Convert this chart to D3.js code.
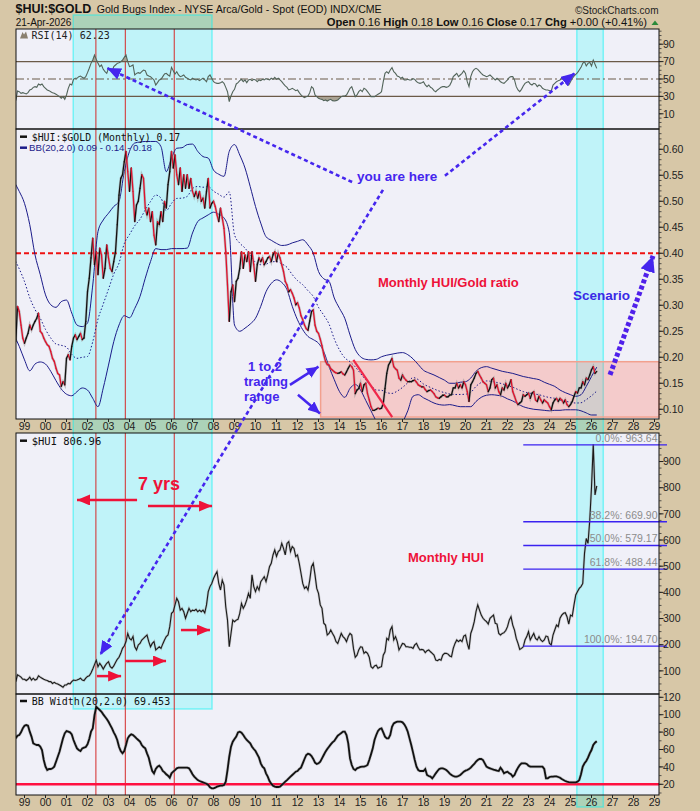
<!DOCTYPE html>
<html>
<head>
<meta charset="utf-8">
<script src="https://d3js.org/d3.v7.min.js"></script>
<style>
  body { margin: 0; background: #d7c7a7; }
  svg { display: block; font-family: "Liberation Sans", Arial, sans-serif; }
</style>
</head>
<body>
<svg id="chart" width="700" height="811"></svg>
<script>
// ---- data (monthly closes start Aug 1998, one row per year) ----
const firstMonth = 1998 + 7 / 12;

const ratioClose = [
  0.230, 0.298, 0.288, 0.262, 0.237,
  0.227, 0.237, 0.246, 0.262, 0.253, 0.262, 0.269, 0.275, 0.285, 0.250, 0.246, 0.237,
  0.230, 0.224, 0.221, 0.211, 0.198, 0.192, 0.179, 0.169, 0.166, 0.144, 0.153, 0.147,
  0.198, 0.205, 0.195, 0.221, 0.237, 0.243, 0.234, 0.240, 0.246, 0.234, 0.237, 0.269,
  0.326, 0.352, 0.391, 0.429, 0.378, 0.403, 0.359, 0.410, 0.397, 0.352, 0.371, 0.416,
  0.391, 0.371, 0.365, 0.384, 0.403, 0.455, 0.512, 0.544, 0.551, 0.576, 0.596, 0.557,
  0.519, 0.564, 0.519, 0.461, 0.493, 0.500, 0.525, 0.551, 0.544, 0.487, 0.474, 0.487,
  0.461, 0.480, 0.435, 0.416, 0.461, 0.455, 0.480, 0.461, 0.500, 0.487, 0.532, 0.557,
  0.596, 0.564, 0.589, 0.551, 0.532, 0.564, 0.519, 0.551, 0.525, 0.551, 0.525, 0.544,
  0.519, 0.509, 0.519, 0.506, 0.519, 0.500, 0.506, 0.487, 0.519, 0.544, 0.487, 0.496,
  0.500, 0.490, 0.474, 0.461, 0.487, 0.468, 0.448, 0.403, 0.339, 0.269, 0.326, 0.339,
  0.307, 0.346, 0.352, 0.371, 0.403, 0.371, 0.397, 0.384, 0.403, 0.365, 0.403, 0.378,
  0.346, 0.378, 0.391, 0.384, 0.391, 0.378, 0.384, 0.391, 0.394, 0.384, 0.397, 0.403,
  0.384, 0.400, 0.391, 0.378, 0.365, 0.346, 0.339, 0.326, 0.330, 0.323, 0.314, 0.301,
  0.305, 0.295, 0.280, 0.272, 0.262, 0.255, 0.252, 0.270, 0.288, 0.291, 0.262, 0.250,
  0.246, 0.235, 0.222, 0.205, 0.192, 0.186, 0.185, 0.178, 0.175, 0.172, 0.170, 0.169,
  0.170, 0.172, 0.168, 0.166, 0.172, 0.179, 0.185, 0.182, 0.175, 0.130, 0.137, 0.140,
  0.150, 0.134, 0.147, 0.150, 0.130, 0.118, 0.105, 0.098, 0.098, 0.100, 0.102, 0.101,
  0.102, 0.111, 0.140, 0.169, 0.185, 0.191, 0.198, 0.182, 0.178, 0.175, 0.160, 0.156,
  0.166, 0.160, 0.156, 0.153, 0.153, 0.153, 0.155, 0.156, 0.152, 0.147, 0.145, 0.143,
  0.143, 0.138, 0.134, 0.136, 0.137, 0.134, 0.130, 0.124, 0.122, 0.121, 0.124, 0.127,
  0.127, 0.124, 0.124, 0.127, 0.128, 0.141, 0.141, 0.150, 0.141, 0.147, 0.141, 0.153,
  0.147, 0.134, 0.115, 0.147, 0.153, 0.160, 0.169, 0.173, 0.166, 0.160, 0.153, 0.150,
  0.147, 0.134, 0.141, 0.157, 0.160, 0.141, 0.147, 0.134, 0.128, 0.141, 0.137, 0.150,
  0.141, 0.147, 0.157, 0.134, 0.125, 0.115, 0.109, 0.112, 0.115, 0.128, 0.125, 0.128,
  0.131, 0.121, 0.131, 0.134, 0.118, 0.115, 0.125, 0.118, 0.112, 0.118, 0.115, 0.112,
  0.105, 0.099, 0.112, 0.118, 0.121, 0.115, 0.121, 0.118, 0.112, 0.118, 0.109, 0.105,
  0.109, 0.115, 0.125, 0.134, 0.131, 0.141, 0.141, 0.153, 0.147, 0.160, 0.157, 0.166,
  0.176, 0.182, 0.169, 0.173
];

const huiClose = [
  59, 85, 81, 76, 68,
  68, 63, 68, 76, 65, 72, 65, 68, 81, 76, 72, 68,
  65, 63, 59, 59, 52, 56, 52, 50, 46, 42, 37, 46,
  46, 52, 50, 59, 65, 63, 65, 68, 72, 65, 63, 72,
  79, 81, 92, 107, 124, 141, 116, 129, 119, 107, 119, 129,
  135, 116, 110, 119, 132, 144, 152, 167, 186, 195, 212, 243,
  224, 218, 231, 192, 180, 199, 205, 218, 224, 231, 237, 212,
  192, 205, 212, 180, 186, 192, 186, 203, 218, 231, 237, 269,
  320, 326, 352, 377, 364, 332, 339, 326, 301, 320, 339, 326,
  332, 330, 335, 326, 332, 326, 332, 322, 352, 403, 422, 434,
  453, 467, 479, 434, 409, 447, 428, 345, 294, 192, 243, 294,
  288, 294, 297, 320, 358, 339, 352, 371, 396, 377, 467, 422,
  403, 422, 409, 441, 450, 460, 441, 467, 498, 511, 543, 562,
  537, 556, 562, 587, 568, 543, 587, 594, 556, 575, 568, 537,
  543, 511, 473, 434, 415, 422, 409, 447, 498, 511, 467, 415,
  396, 352, 339, 282, 275, 237, 243, 256, 243, 231, 212, 205,
  224, 243, 231, 224, 212, 231, 243, 237, 185, 152, 160, 180,
  192, 190, 167, 173, 167, 152, 116, 110, 119, 122, 110, 114,
  116, 160, 173, 224, 218, 256, 269, 218, 231, 212, 180, 192,
  205, 203, 192, 192, 190, 190, 186, 199, 205, 190, 180, 182,
  180, 170, 177, 180, 173, 167, 160, 141, 139, 144, 141, 160,
  167, 167, 164, 157, 154, 186, 205, 218, 212, 218, 212, 233,
  237, 205, 182, 243, 262, 288, 326, 352, 332, 313, 301, 294,
  288, 279, 301, 307, 313, 282, 279, 243, 237, 243, 246, 254,
  269, 294, 307, 275, 256, 224, 205, 182, 186, 192, 218, 231,
  250, 218, 231, 243, 224, 218, 231, 218, 212, 218, 233, 231,
  205, 199, 237, 256, 275, 269, 301, 313, 320, 322, 307, 279,
  313, 309, 352, 390, 403, 415, 422, 434, 549, 606, 587, 676,
  803, 966, 772, 806.96
];

const rsi14 = [
  25.0, 36.2, 35.4, 33.5, 34.3,
  33.5, 32.8, 34.3, 37.4, 38.1, 40.4, 41.2, 40.4, 44.3, 43.1, 44.3, 41.2,
  39.3, 37.4, 36.6, 35.4, 34.3, 33.5, 32.4, 31.2, 29.7, 27.8, 29.7, 26.6,
  31.6, 39.3, 44.3, 43.1, 49.6, 50.8, 50.8, 52.7, 53.4, 51.9, 50.8, 52.7,
  57.3, 62.3, 68.0, 71.8, 77.6, 72.6, 68.0, 64.2, 66.1, 61.1, 58.4, 56.5,
  62.3, 60.3, 58.4, 64.2, 66.1, 68.0, 68.8, 69.9, 71.8, 74.9, 77.6, 69.9,
  64.2, 64.9, 66.1, 54.6, 56.5, 57.3, 56.5, 58.4, 60.3, 59.6, 54.6, 53.4,
  52.7, 50.8, 48.9, 43.1, 45.8, 48.9, 49.6, 52.7, 55.7, 56.5, 54.6, 53.4,
  63.4, 59.6, 55.7, 58.4, 54.6, 52.7, 53.4, 54.6, 51.9, 50.8, 49.6, 48.9,
  50.8, 49.6, 48.9, 49.6, 48.1, 49.6, 50.8, 48.9, 46.9, 52.7, 54.6, 50.8,
  46.9, 45.8, 45.0, 45.0, 45.8, 46.9, 45.0, 40.4, 35.4, 23.9, 30.5, 35.4,
  38.1, 44.3, 45.8, 48.1, 49.6, 46.9, 48.9, 45.8, 48.9, 49.6, 48.1, 49.6,
  48.9, 46.9, 48.9, 48.1, 49.6, 48.9, 50.4, 49.6, 48.9, 50.8, 49.6, 51.9,
  49.6, 50.8, 48.9, 46.9, 44.3, 42.0, 40.4, 37.4, 38.1, 39.3, 38.1, 36.6,
  37.4, 34.3, 31.6, 29.7, 28.5, 29.7, 30.5, 34.3, 41.2, 39.3, 31.6, 29.7,
  27.8, 27.0, 26.6, 25.1, 25.9, 24.7, 25.9, 26.6, 25.1, 24.7, 25.1, 25.9,
  27.8, 29.7, 30.5, 30.5, 31.6, 35.4, 39.3, 41.2, 35.4, 29.7, 31.6, 35.4,
  37.4, 35.4, 39.3, 38.1, 35.4, 32.8, 29.7, 29.7, 29.7, 31.2, 32.4, 33.5,
  35.4, 46.9, 56.5, 58.4, 56.5, 60.3, 63.0, 58.4, 56.5, 53.4, 52.7, 50.8,
  51.9, 48.9, 48.9, 49.6, 48.9, 48.9, 50.4, 49.6, 46.9, 45.8, 45.0, 45.8,
  46.9, 43.1, 41.2, 43.1, 40.4, 39.3, 36.6, 35.4, 37.4, 38.9, 40.4, 41.2,
  41.2, 40.4, 41.2, 42.7, 46.9, 52.7, 54.6, 56.5, 52.7, 54.6, 56.5, 59.6,
  56.5, 46.9, 41.2, 52.7, 58.4, 61.1, 62.3, 61.1, 58.8, 56.5, 54.6, 53.8,
  52.7, 53.4, 54.6, 52.7, 50.8, 48.9, 50.8, 48.9, 46.9, 45.8, 45.0, 46.9,
  48.9, 51.9, 52.7, 52.7, 48.9, 41.2, 37.4, 35.4, 38.1, 42.0, 45.0, 46.2,
  46.9, 44.3, 43.1, 45.0, 44.3, 41.2, 43.1, 42.0, 39.3, 38.1, 37.4, 37.4,
  36.6, 36.2, 43.1, 45.0, 46.9, 48.1, 48.9, 50.8, 52.7, 50.8, 48.1, 43.1,
  46.9, 50.8, 53.4, 55.4, 57.3, 60.3, 63.4, 68.0, 69.9, 65.0, 68.0, 69.2,
  64.9, 71.8, 66.9, 62.23
];

const bbWidth = [
  72.8, 75.9, 76.7, 79.7, 84.3,
  87.4, 88.1, 87.4, 80.5, 74.8, 67.1, 66.0, 65.2, 65.2, 63.3, 59.4, 47.9,
  40.3, 36.4, 37.6, 37.6, 38.4, 40.3, 46.0, 51.7, 57.5, 65.2, 72.8, 78.6,
  81.3, 80.5, 79.7, 77.4, 70.9, 65.9, 61.3, 59.4, 58.3, 61.3, 62.1, 62.9,
  65.9, 72.0, 80.5, 84.3, 99.6, 109.2, 107.3, 105.4, 103.4, 100.4, 97.7, 95.0,
  91.9, 88.1, 84.3, 79.7, 75.9, 70.9, 63.2, 58.3, 55.6, 58.3, 65.2, 72.8,
  75.9, 77.4, 76.7, 74.8, 72.8, 70.9, 69.0, 65.2, 62.9, 61.3, 55.6, 50.6,
  42.2, 35.3, 32.6, 37.6, 40.3, 41.4, 39.1, 35.3, 33.8, 31.5, 29.9, 27.6,
  32.6, 34.5, 36.4, 38.4, 39.1, 39.1, 39.1, 39.1, 39.1, 39.1, 38.4, 35.3,
  31.5, 28.8, 26.9, 24.9, 23.8, 23.0, 22.3, 21.5, 20.7, 19.2, 16.5, 15.4,
  15.4, 16.1, 17.3, 18.0, 18.4, 18.4, 19.2, 23.0, 36.4, 51.7, 63.2, 69.0,
  72.0, 74.8, 79.7, 80.5, 79.3, 76.7, 73.6, 70.9, 69.0, 67.1, 63.2, 60.6,
  58.3, 54.4, 50.6, 44.1, 40.3, 38.4, 32.6, 28.8, 23.8, 20.7, 18.4, 17.3,
  16.9, 16.9, 17.3, 19.2, 21.1, 23.0, 24.9, 26.9, 28.8, 30.7, 32.6, 34.5,
  35.3, 37.6, 39.1, 44.1, 49.1, 53.7, 55.2, 54.4, 52.5, 49.1, 44.9, 43.4,
  44.1, 46.0, 49.8, 53.7, 57.5, 60.6, 63.2, 65.9, 68.2, 69.8, 72.8, 75.9,
  77.4, 78.9, 80.5, 80.5, 76.7, 67.1, 49.8, 42.2, 37.6, 36.4, 38.4, 39.1,
  39.9, 40.3, 40.3, 41.0, 42.2, 47.9, 54.4, 61.3, 70.9, 76.7, 81.3, 83.6,
  84.3, 79.7, 74.8, 72.8, 72.8, 76.7, 86.2, 90.0, 91.2, 92.0, 92.0, 92.0,
  91.2, 88.9, 85.4, 80.5, 72.8, 65.2, 56.7, 47.9, 40.3, 36.4, 35.3, 35.3,
  35.3, 37.6, 30.7, 29.5, 28.8, 26.9, 29.5, 32.6, 35.3, 37.6, 38.4, 38.4,
  37.6, 36.4, 34.5, 32.3, 30.7, 29.5, 28.8, 28.8, 29.5, 30.7, 32.6, 34.5,
  35.7, 36.4, 37.6, 39.1, 41.4, 43.4, 46.0, 47.9, 49.1, 49.1, 47.9, 44.1,
  40.3, 39.1, 38.4, 37.6, 36.8, 36.4, 35.7, 35.3, 39.1, 36.4, 32.6, 33.8,
  34.5, 32.6, 31.5, 28.8, 30.7, 35.3, 39.1, 42.2, 44.1, 44.1, 44.1, 43.4,
  41.4, 40.3, 40.3, 40.3, 40.3, 40.3, 40.3, 40.3, 40.3, 37.6, 26.9, 26.9,
  28.4, 28.8, 28.8, 29.1, 29.1, 28.4, 27.6, 26.1, 24.9, 23.8, 23.0, 22.6,
  22.3, 22.3, 22.3, 22.3, 23.0, 24.9, 31.5, 40.3, 44.1, 46.8, 50.6, 55.6,
  59.4, 65.2, 67.8, 69.453
];

// Bollinger bands read quarterly, starting mid 1998
const bandStart = 1998.5;
const bbUpper = [
  0.538, 0.519,
  0.496, 0.455, 0.397, 0.359,
  0.320, 0.301, 0.296, 0.307,
  0.310, 0.285, 0.262, 0.259,
  0.266, 0.339, 0.442, 0.464,
  0.477, 0.490, 0.500, 0.557,
  0.596, 0.612, 0.614, 0.615,
  0.615, 0.615, 0.605, 0.557,
  0.583, 0.602, 0.603, 0.609,
  0.610, 0.596, 0.586, 0.583,
  0.560, 0.552, 0.548, 0.596,
  0.609, 0.589, 0.564, 0.528,
  0.490, 0.458, 0.432, 0.425,
  0.419, 0.415, 0.416, 0.420,
  0.423, 0.426, 0.416, 0.400,
  0.365, 0.351, 0.346, 0.314,
  0.294, 0.275, 0.243, 0.215,
  0.201, 0.196, 0.195, 0.196,
  0.201, 0.204, 0.206, 0.208,
  0.209, 0.205, 0.197, 0.186,
  0.175, 0.170, 0.166, 0.161,
  0.156, 0.150, 0.150, 0.152,
  0.153, 0.160, 0.173, 0.180,
  0.182, 0.179, 0.176, 0.173,
  0.171, 0.169, 0.166, 0.163,
  0.161, 0.159, 0.157, 0.152,
  0.148, 0.144, 0.137, 0.132,
  0.128, 0.125, 0.128, 0.144,
  0.163, 0.181
];
const bbLower = [
  0.243, 0.221,
  0.195, 0.174, 0.187, 0.191,
  0.187, 0.173, 0.155, 0.139,
  0.129, 0.126, 0.134, 0.141,
  0.137, 0.121, 0.105, 0.141,
  0.185, 0.230, 0.262, 0.280,
  0.276, 0.294, 0.317, 0.352,
  0.384, 0.409, 0.407, 0.407,
  0.409, 0.409, 0.409, 0.410,
  0.439, 0.461, 0.468, 0.474,
  0.479, 0.475, 0.468, 0.440,
  0.262, 0.250, 0.256, 0.264,
  0.275, 0.298, 0.326, 0.342,
  0.349, 0.344, 0.330, 0.298,
  0.272, 0.253, 0.240, 0.234,
  0.227, 0.211, 0.182, 0.157,
  0.134, 0.123, 0.140, 0.148,
  0.137, 0.117, 0.097, 0.078,
  0.072, 0.060, 0.055, 0.062,
  0.075, 0.097, 0.125, 0.128,
  0.122, 0.117, 0.112, 0.109,
  0.108, 0.109, 0.107, 0.105,
  0.105, 0.105, 0.115, 0.123,
  0.127, 0.128, 0.127, 0.125,
  0.120, 0.116, 0.110, 0.105,
  0.102, 0.100, 0.099, 0.098,
  0.097, 0.098, 0.098, 0.099,
  0.099, 0.099, 0.097, 0.093,
  0.089, 0.089
];

const years = d3.range(1999, 2030);
const rsiTicks = [10, 30, 50, 70, 90];
const ratioTicks = [0.10, 0.15, 0.20, 0.25, 0.30, 0.35, 0.40, 0.45, 0.50, 0.55, 0.60];
const huiTicks = [100, 200, 300, 400, 500, 600, 700, 800, 900];
const bbwTicks = [20, 40, 60, 80, 100, 120];

const redMarkers = [2002.4, 2003.8, 2006.13];
const cyanZones = [[2001.32, 2007.93], [2025.30, 2026.56]];
const fibStart = 2022.75;
const fibLevels = [
  { label: "0.0%", value: 963.64 },
  { label: "38.2%", value: 669.90 },
  { label: "50.0%", value: 579.17 },
  { label: "61.8%", value: 488.44 },
  { label: "100.0%", value: 194.70 }
];
const tradingRange = { from: 2013.1, low: 0.085, high: 0.1915 };
const breakLine = [[2014.66, 0.195], [2016.51, 0.085]];

// ---- layout ----
const svg = d3.select("#chart");
const plotL = 16, plotR = 659;
const x = d3.scaleLinear().domain([1998.595, 2029.214]).range([plotL, plotR]);

const panels = {
  rsi:   { top: 29,  bottom: 129, domain: [-7.5, 107.5] },
  ratio: { top: 129, bottom: 419, domain: [0.0813, 0.639] },
  hui:   { top: 433, bottom: 694, domain: [11.6, 1009] },
  bbw:   { top: 694, bottom: 795, domain: [7.7, 123.8] }
};
Object.entries(panels).forEach(([k, p]) => {
  p.y = d3.scaleLinear().domain(p.domain).range([p.bottom, p.top]);
  p.id = "clip-" + k;
});

const monthly = arr => arr.map((v, i) => ({ t: firstMonth + i / 12, v }));
const quarterly = arr => arr.map((v, i) => ({ t: bandStart + i * 0.25, v }));

const defs = svg.append("defs");
Object.values(panels).forEach(p => {
  defs.append("clipPath").attr("id", p.id).append("rect")
    .attr("x", plotL).attr("y", p.top).attr("width", plotR - plotL).attr("height", p.bottom - p.top);
});

function marker(id, color, len, wid) {
  defs.append("marker").attr("id", id)
    .attr("viewBox", `0 0 ${len} ${wid}`)
    .attr("refX", len).attr("refY", wid / 2)
    .attr("markerWidth", len).attr("markerHeight", wid)
    .attr("markerUnits", "userSpaceOnUse").attr("orient", "auto")
    .append("path").attr("d", `M0,0 L${len},${wid / 2} L0,${wid} Z`).attr("fill", color);
}
const BLUE = "#4526ee", RED = "#ee1238";
marker("arBlue", BLUE, 14, 12);
marker("arBlueBig", BLUE, 16, 15);
marker("arBlueSm", BLUE, 12, 11);
marker("arRed", RED, 13, 11);

// page + panel backgrounds
svg.append("rect").attr("width", 700).attr("height", 811).attr("fill", "#d7c7a7");
Object.values(panels).forEach(p => {
  svg.append("rect").attr("x", plotL).attr("y", p.top).attr("width", plotR - plotL)
    .attr("height", p.bottom - p.top).attr("fill", "#f0f0f8");
});

// cyan highlight zones (left one reaches into the header)
const zoneExtent = [[15, 709], [29, 807]];
cyanZones.forEach((z, i) => {
  svg.append("rect").attr("x", x(z[0])).attr("y", zoneExtent[i][0])
    .attr("width", x(z[1]) - x(z[0])).attr("height", zoneExtent[i][1] - zoneExtent[i][0])
    .attr("fill", "rgba(0,255,255,0.2)").attr("stroke", "rgba(0,245,245,0.45)").attr("stroke-width", 1.5);
});

// trading range box
svg.append("rect")
  .attr("x", x(tradingRange.from)).attr("y", panels.ratio.y(tradingRange.high))
  .attr("width", plotR - x(tradingRange.from))
  .attr("height", panels.ratio.y(tradingRange.low) - panels.ratio.y(tradingRange.high))
  .attr("fill", "rgba(255,120,100,0.3)").attr("stroke", "#f2a08e").attr("stroke-width", 1.5);

// vertical red markers
[[29, 419], [433, 795]].forEach(([a, b]) => {
  svg.selectAll(null).data(redMarkers).join("line")
    .attr("x1", d => x(d)).attr("x2", d => x(d)).attr("y1", a).attr("y2", b)
    .attr("stroke", "#d42a2a").attr("stroke-width", 1);
});

// ---- RSI panel ----
const rsiData = monthly(rsi14);
const rp = panels.rsi;
const gR = svg.append("g").attr("clip-path", `url(#${rp.id})`);
gR.append("path").datum(rsiData).attr("fill", "#aaa293")
  .attr("d", d3.area().x(d => x(d.t)).y0(rp.y(30)).y1(d => rp.y(Math.min(d.v, 30))));
gR.append("path").datum(rsiData).attr("fill", "#aaa293")
  .attr("d", d3.area().x(d => x(d.t)).y0(rp.y(70)).y1(d => rp.y(Math.max(d.v, 70))));
[70, 30].forEach(v => gR.append("line").attr("x1", plotL).attr("x2", plotR)
  .attr("y1", rp.y(v)).attr("y2", rp.y(v)).attr("stroke", "#6b5a48").attr("stroke-width", 1.2));
gR.append("line").attr("x1", plotL).attr("x2", plotR).attr("y1", rp.y(50)).attr("y2", rp.y(50))
  .attr("stroke", "#6b5a48").attr("stroke-width", 1.1).attr("stroke-dasharray", "8,3,2,3");
gR.append("path").datum(rsiData).attr("fill", "none").attr("stroke", "#52645a").attr("stroke-width", 1.1)
  .attr("d", d3.line().x(d => x(d.t)).y(d => rp.y(d.v)));

// ---- ratio panel ----
const pp = panels.ratio;
const gP = svg.append("g").attr("clip-path", `url(#${pp.id})`);
gP.append("line").attr("x1", plotL).attr("x2", plotR).attr("y1", pp.y(0.40)).attr("y2", pp.y(0.40))
  .attr("stroke", "#ee1111").attr("stroke-width", 2).attr("stroke-dasharray", "5,3");
const up = quarterly(bbUpper), lo = quarterly(bbLower);
const mid = up.map((d, i) => ({ t: d.t, v: (d.v + lo[i].v) / 2 }));
const bandLine = d3.line().curve(d3.curveMonotoneX).x(d => x(d.t)).y(d => pp.y(d.v));
[up, lo].forEach(b => gP.append("path").datum(b).attr("fill", "none")
  .attr("stroke", "#1c1c8a").attr("stroke-width", 1).attr("d", bandLine));
gP.append("path").datum(mid).attr("fill", "none").attr("stroke", "#1c1c8a")
  .attr("stroke-width", 1).attr("stroke-dasharray", "1.5,2").attr("d", bandLine);
const ratioData = monthly(ratioClose);
gP.append("path").datum(ratioData).attr("fill", "none").attr("stroke", "#999").attr("stroke-opacity", 0.55)
  .attr("stroke-width", 2.6).attr("d", d3.line().x(d => x(d.t)).y(d => pp.y(d.v)));
gP.selectAll(null).data(d3.pairs(ratioData)).join("line")
  .attr("x1", d => x(d[0].t)).attr("y1", d => pp.y(d[0].v))
  .attr("x2", d => x(d[1].t)).attr("y2", d => pp.y(d[1].v))
  .attr("stroke", d => d[1].v >= d[0].v ? "#111" : "#e0102c")
  .attr("stroke-width", 1.3).attr("stroke-linecap", "round");
gP.append("line")
  .attr("x1", x(breakLine[0][0])).attr("y1", pp.y(breakLine[0][1]))
  .attr("x2", x(breakLine[1][0])).attr("y2", pp.y(breakLine[1][1]))
  .attr("stroke", "#f0284a").attr("stroke-width", 2.2);

// ---- HUI panel ----
const hp = panels.hui;
const gH = svg.append("g").attr("clip-path", `url(#${hp.id})`);
const huiLine = d3.line().x(d => x(d.t)).y(d => hp.y(d.v));
gH.append("path").datum(monthly(huiClose)).attr("fill", "none").attr("stroke", "#aaa")
  .attr("stroke-opacity", 0.6).attr("stroke-width", 2.4).attr("d", huiLine);
gH.append("path").datum(monthly(huiClose)).attr("fill", "none").attr("stroke", "#1a1a1a")
  .attr("stroke-width", 1.1).attr("d", huiLine);
const fibG = svg.append("g");
fibG.selectAll("line").data(fibLevels).join("line")
  .attr("x1", x(fibStart)).attr("x2", 667)
  .attr("y1", d => hp.y(d.value)).attr("y2", d => hp.y(d.value))
  .attr("stroke", "#3a22f0").attr("stroke-width", 1.3);

// ---- BB width panel ----
const bp = panels.bbw;
const gB = svg.append("g").attr("clip-path", `url(#${bp.id})`);
gB.append("line").attr("x1", plotL).attr("x2", plotR).attr("y1", bp.y(20)).attr("y2", bp.y(20))
  .attr("stroke", "#ff1040").attr("stroke-width", 2.6);
const bbwLine = d3.line().x(d => x(d.t)).y(d => bp.y(d.v));
gB.append("path").datum(monthly(bbWidth)).attr("fill", "none").attr("stroke", "#999")
  .attr("stroke-opacity", 0.5).attr("stroke-width", 3).attr("d", bbwLine);
gB.append("path").datum(monthly(bbWidth)).attr("fill", "none").attr("stroke", "#111")
  .attr("stroke-width", 1.8).attr("d", bbwLine);

// panel borders
Object.values(panels).forEach(p => {
  svg.append("rect").attr("x", plotL).attr("y", p.top).attr("width", plotR - plotL)
    .attr("height", p.bottom - p.top).attr("fill", "none").attr("stroke", "#111").attr("stroke-width", 1);
});

// right axes
function rightAxis(p, major, step, fmt) {
  const g = svg.append("g");
  const minor = d3.range(Math.ceil(p.domain[0] / step) * step, p.domain[1], step);
  g.selectAll("line.mn").data(minor).join("line").attr("class", "mn")
    .attr("x1", plotR).attr("x2", plotR + 2.5).attr("y1", d => p.y(d)).attr("y2", d => p.y(d))
    .attr("stroke", "#333").attr("stroke-width", 0.8);
  g.selectAll("line.mj").data(major).join("line").attr("class", "mj")
    .attr("x1", plotR).attr("x2", plotR + 4.5).attr("y1", d => p.y(d)).attr("y2", d => p.y(d))
    .attr("stroke", "#222").attr("stroke-width", 1);
  g.selectAll("text").data(major).join("text")
    .attr("x", plotR + 4).attr("y", d => p.y(d)).attr("dy", "0.36em")
    .attr("font-size", 10.5).attr("fill", "#222").text(fmt);
}
rightAxis(panels.rsi, rsiTicks, 5, d => d);
rightAxis(panels.ratio, ratioTicks, 0.01, d3.format(".2f"));
rightAxis(panels.hui, huiTicks, 25, d => d);
rightAxis(panels.bbw, bbwTicks, 10, d => d);

// year axes (mid strip and bottom)
[[419, 430], [795, 806]].forEach(([base, ty]) => {
  svg.selectAll(null).data(years).join("line")
    .attr("x1", d => x(d)).attr("x2", d => x(d)).attr("y1", base).attr("y2", base + 3)
    .attr("stroke", "#222");
  svg.selectAll(null).data(years).join("text")
    .attr("x", d => x(d)).attr("y", ty).attr("text-anchor", "middle")
    .attr("font-size", 10.5).attr("fill", "#222")
    .text(d => String(d % 100).padStart(2, "0"));
});

// fib labels, kept just inside the plot so they clear the axis numbers
fibG.selectAll("text").data(fibLevels).join("text")
  .attr("x", 657.5).attr("y", d => hp.y(d.value) - 3).attr("text-anchor", "end")
  .attr("font-size", 10.5).attr("fill", "#8c8c8c")
  .text(d => `${d.label}: ${d.value.toFixed(2)}`);

// ---- annotations ----
const pt = (t, p, v) => [x(t), p.y(v)];
function arrow(a, b, color, width, dash, mk) {
  svg.append("line").attr("x1", a[0]).attr("y1", a[1]).attr("x2", b[0]).attr("y2", b[1])
    .attr("stroke", color).attr("stroke-width", width)
    .attr("stroke-dasharray", dash).attr("marker-end", `url(#${mk})`);
}
const R_ = panels.ratio, RS = panels.rsi, HU = panels.hui;
arrow(pt(2014.6, R_, 0.537), pt(2002.93, RS, 62.6), BLUE, 2.6, "4,3", "arBlue");
arrow(pt(2019.02, R_, 0.549), pt(2025.21, RS, 56.9), BLUE, 2.6, "4,3", "arBlue");
arrow(pt(2016.07, R_, 0.522), pt(2002.6, HU, 160.6), BLUE, 2.6, "4,3", "arBlue");
arrow(pt(2026.88, R_, 0.166), pt(2028.93, R_, 0.395), "#5020ea", 5, "4,2.5", "arBlueBig");
arrow(pt(2011.64, R_, 0.147), pt(2013.0, R_, 0.182), BLUE, 2.5, null, "arBlueSm");
arrow(pt(2012.02, R_, 0.128), pt(2013.07, R_, 0.092), BLUE, 2.5, null, "arBlueSm");
arrow(pt(2004.36, HU, 753), pt(2001.5, HU, 753), RED, 2.5, null, "arRed");
arrow(pt(2004.88, HU, 730), pt(2007.93, HU, 730), RED, 2.5, null, "arRed");
arrow(pt(2002.45, HU, 80), pt(2003.6, HU, 80), RED, 2.5, null, "arRed");
arrow(pt(2003.79, HU, 137.7), pt(2005.74, HU, 137.7), RED, 2.5, null, "arRed");
arrow(pt(2006.45, HU, 256), pt(2007.83, HU, 256), RED, 2.5, null, "arRed");

function note(t, p, v, txt, color, size, anchor) {
  svg.append("text").attr("x", x(t)).attr("y", p.y(v)).attr("fill", color)
    .attr("font-size", size).attr("font-weight", "bold")
    .attr("text-anchor", anchor || "start").text(txt);
}
note(2014.83, R_, 0.539, "you are here", BLUE, 13.5);
note(2015.83, R_, 0.335, "Monthly HUI/Gold ratio", RED, 13);
note(2025.12, R_, 0.31, "Scenario", "#3a2ae6", 13.5);
note(2010.45, R_, 0.174, "1 to 2", BLUE, 13, "middle");
note(2010.5, R_, 0.145, "trading", BLUE, 13, "middle");
note(2010.3, R_, 0.116, "range", BLUE, 13, "middle");
note(2004.4, HU, 791, "7 yrs", RED, 18);
note(2017.26, HU, 516, "Monthly HUI", RED, 13);

// ---- legends ----
const mono = "'DejaVu Sans Mono', monospace";
function legendDash(yc, color) {
  svg.append("line").attr("x1", 20).attr("x2", 27).attr("y1", yc).attr("y2", yc)
    .attr("stroke", color).attr("stroke-width", 2.5);
}
svg.append("path").attr("d", "M20,38.5 L22.5,32 L24,34.5 L26,31.5 L28,38.5 Z").attr("fill", "#8a8070");
svg.append("text").attr("x", 31.5).attr("y", 38.5).attr("font-family", mono).attr("font-size", 10)
  .attr("fill", "#222").text("RSI(14) 62.23");
legendDash(136.7, "#111");
svg.append("text").attr("x", 31.7).attr("y", 140.5).attr("font-family", mono).attr("font-size", 9.9)
  .attr("fill", "#111").text("$HUI:$GOLD (Monthly) 0.17");
legendDash(147.7, "#1c1c8a");
svg.append("text").attr("x", 29).attr("y", 150.8).attr("font-size", 9)
  .attr("textLength", 123).attr("lengthAdjust", "spacingAndGlyphs")
  .attr("fill", "#1c1c8a").text("BB(20,2.0) 0.09 - 0.14 - 0.18");
legendDash(440.7, "#111");
svg.append("text").attr("x", 31.7).attr("y", 444.6).attr("font-family", mono).attr("font-size", 10.5)
  .attr("fill", "#111").text("$HUI 806.96");
legendDash(701, "#111");
svg.append("text").attr("x", 31.7).attr("y", 705).attr("font-family", mono).attr("font-size", 10)
  .attr("fill", "#111").text("BB Width(20,2.0) 69.453");

// ---- header ----
svg.append("text").attr("x", 15.5).attr("y", 13).attr("font-size", 12.5).attr("font-weight", "bold")
  .attr("fill", "#111").text("$HUI:$GOLD");
svg.append("text").attr("x", 96.7).attr("y", 13).attr("font-size", 10.5)
  .attr("textLength", 285).attr("lengthAdjust", "spacingAndGlyphs")
  .attr("fill", "#111").text("Gold Bugs Index - NYSE Arca/Gold - Spot (EOD) INDX/CME");
svg.append("text").attr("x", 658.5).attr("y", 13.5).attr("font-size", 10).attr("text-anchor", "end")
  .attr("fill", "#222").text("\u00A9StockCharts.com");
svg.append("text").attr("x", 15.7).attr("y", 25.7).attr("font-size", 10).attr("fill", "#111").text("21-Apr-2026");
const ohlc = svg.append("text").attr("x", 647).attr("y", 26).attr("font-size", 11.2)
  .attr("text-anchor", "end").attr("fill", "#111");
[["Open", true], [" 0.16 ", false], ["High", true], [" 0.18 ", false], ["Low", true], [" 0.16 ", false],
 ["Close", true], [" 0.17 ", false], ["Chg", true], [" +0.00 (+0.41%)", false]].forEach(([s, b]) => {
  ohlc.append("tspan").attr("font-weight", b ? "bold" : "normal").attr("xml:space", "preserve").text(s);
});
svg.append("path").attr("d", "M651.5,25 L655,20.5 L658.5,25 Z").attr("fill", "#2a8a3a");
</script>
</body>
</html>
